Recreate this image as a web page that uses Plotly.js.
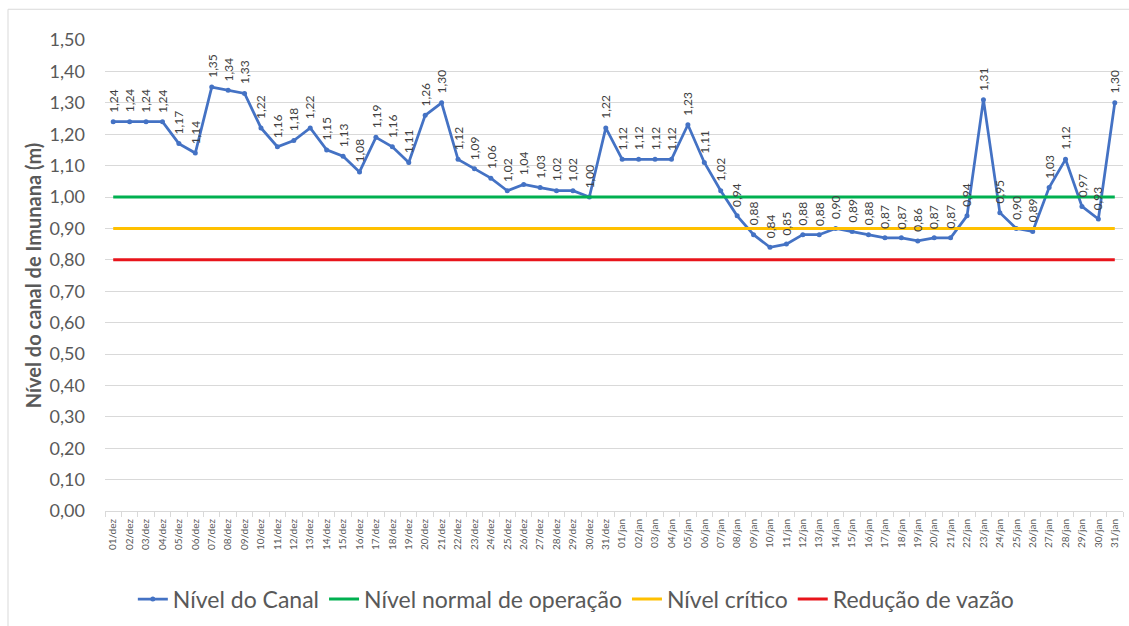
<!DOCTYPE html>
<html>
<head>
<meta charset="utf-8">
<script src="https://cdn.plot.ly/plotly-3.0.1.min.js"></script>
<style>
  html, body { margin: 0; padding: 0; background: #fff; }
  #plot { width: 1129px; height: 626px; }
</style>
</head>
<body>
<div id="plot"></div>
<script>
// =========================
// Data
// =========================
const days = [
  '01/dez', '02/dez', '03/dez', '04/dez', '05/dez', '06/dez', '07/dez', '08/dez',
  '09/dez', '10/dez', '11/dez', '12/dez', '13/dez', '14/dez', '15/dez', '16/dez',
  '17/dez', '18/dez', '19/dez', '20/dez', '21/dez', '22/dez', '23/dez', '24/dez',
  '25/dez', '26/dez', '27/dez', '28/dez', '29/dez', '30/dez', '31/dez',
  '01/jan', '02/jan', '03/jan', '04/jan', '05/jan', '06/jan', '07/jan', '08/jan',
  '09/jan', '10/jan', '11/jan', '12/jan', '13/jan', '14/jan', '15/jan', '16/jan',
  '17/jan', '18/jan', '19/jan', '20/jan', '21/jan', '22/jan', '23/jan', '24/jan',
  '25/jan', '26/jan', '27/jan', '28/jan', '29/jan', '30/jan', '31/jan'
];

const nivelCanal = [
  1.24, 1.24, 1.24, 1.24, 1.17, 1.14, 1.35, 1.34, 1.33, 1.22, 1.16, 1.18, 1.22,
  1.15, 1.13, 1.08, 1.19, 1.16, 1.11, 1.26, 1.30, 1.12, 1.09, 1.06, 1.02, 1.04,
  1.03, 1.02, 1.02, 1.00, 1.22,
  1.12, 1.12, 1.12, 1.12, 1.23, 1.11, 1.02, 0.94, 0.88, 0.84, 0.85, 0.88, 0.88,
  0.90, 0.89, 0.88, 0.87, 0.87, 0.86, 0.87, 0.87, 0.94, 1.31, 0.95, 0.90, 0.89,
  1.03, 1.12, 0.97, 0.93, 1.30
];

const nivelNormal = 1.00;
const nivelCritico = 0.90;
const reducaoVazao = 0.80;

const yTicks = [0, 0.1, 0.2, 0.3, 0.4, 0.5, 0.6, 0.7, 0.8, 0.9, 1.0, 1.1, 1.2, 1.3, 1.4, 1.5];

// =========================
// Helpers
// =========================
function fmt(v) {
  return v.toFixed(2).replace('.', ',');
}

const FONT = 'Lato, "Open Sans", sans-serif';
const GREY = '#595959';

// =========================
// Traces
// =========================
const data = [
  {
    type: 'scatter',
    mode: 'lines+markers',
    name: 'Nível do Canal',
    x: days,
    y: nivelCanal,
    line: { color: '#4472C4', width: 2.75 },
    marker: { color: '#4472C4', size: 5 }
  },
  {
    type: 'scatter',
    mode: 'lines',
    name: 'Nível normal de operação',
    x: days,
    y: days.map(() => nivelNormal),
    line: { color: '#00B050', width: 3 }
  },
  {
    type: 'scatter',
    mode: 'lines',
    name: 'Nível crítico',
    x: days,
    y: days.map(() => nivelCritico),
    line: { color: '#FFC000', width: 3 }
  },
  {
    type: 'scatter',
    mode: 'lines',
    name: 'Redução de vazão',
    x: days,
    y: days.map(() => reducaoVazao),
    line: { color: '#E8141B', width: 3 }
  }
];

// data labels, rotated like in the spreadsheet
const annotations = nivelCanal.map((v, i) => ({
  x: days[i],
  y: v,
  xref: 'x',
  yref: 'y',
  text: fmt(v),
  textangle: -90,
  showarrow: false,
  xanchor: 'center',
  yanchor: 'bottom',
  yshift: 7,
  font: { family: FONT, size: 12, color: '#404040' }
}));

const layout = {
  width: 1129,
  height: 626,
  paper_bgcolor: '#fff',
  plot_bgcolor: '#fff',
  margin: { l: 105, r: 6, t: 40, b: 111 },
  showlegend: true,
  legend: {
    orientation: 'h',
    x: 0.463,
    xanchor: 'center',
    y: -0.187,
    yanchor: 'middle',
    font: { family: FONT, size: 23, color: GREY },
    itemwidth: 30,
    tracegroupgap: 0
  },
  xaxis: {
    type: 'category',
    range: [-0.5, days.length - 0.5],
    tickangle: -90,
    tickfont: { family: FONT, size: 10, color: GREY },
    ticks: 'outside',
    tickson: 'boundaries',
    ticklen: 5,
    tickcolor: '#d9d9d9',
    ticklabelstandoff: 3,
    showline: true,
    linecolor: '#d9d9d9',
    linewidth: 1,
    showgrid: false,
    zeroline: false,
    fixedrange: true
  },
  yaxis: {
    range: [0, 1.5],
    tickvals: yTicks,
    ticktext: yTicks.map(fmt),
    tickfont: { family: FONT, size: 18, color: GREY },
    showgrid: true,
    gridcolor: '#d9d9d9',
    gridwidth: 1,
    zeroline: false,
    showline: false,
    ticks: '',
    ticklabelstandoff: 19,
    title: {
      text: '<b>Nível do canal de Imunana (m)</b>',
      font: { family: FONT, size: 20, color: GREY },
      standoff: 2
    },
    fixedrange: true
  },
  shapes: [
    {
      type: 'rect',
      xref: 'paper', yref: 'paper',
      x0: -97 / 1018, x1: 1130 / 1018,
      y0: -140 / 475, y1: 506 / 475,
      line: { color: '#d9d9d9', width: 1 },
      fillcolor: 'rgba(0,0,0,0)',
      layer: 'below'
    }
  ],
  annotations: annotations
};

Plotly.newPlot('plot', data, layout, { displayModeBar: false, staticPlot: true });
</script>
</body>
</html>
